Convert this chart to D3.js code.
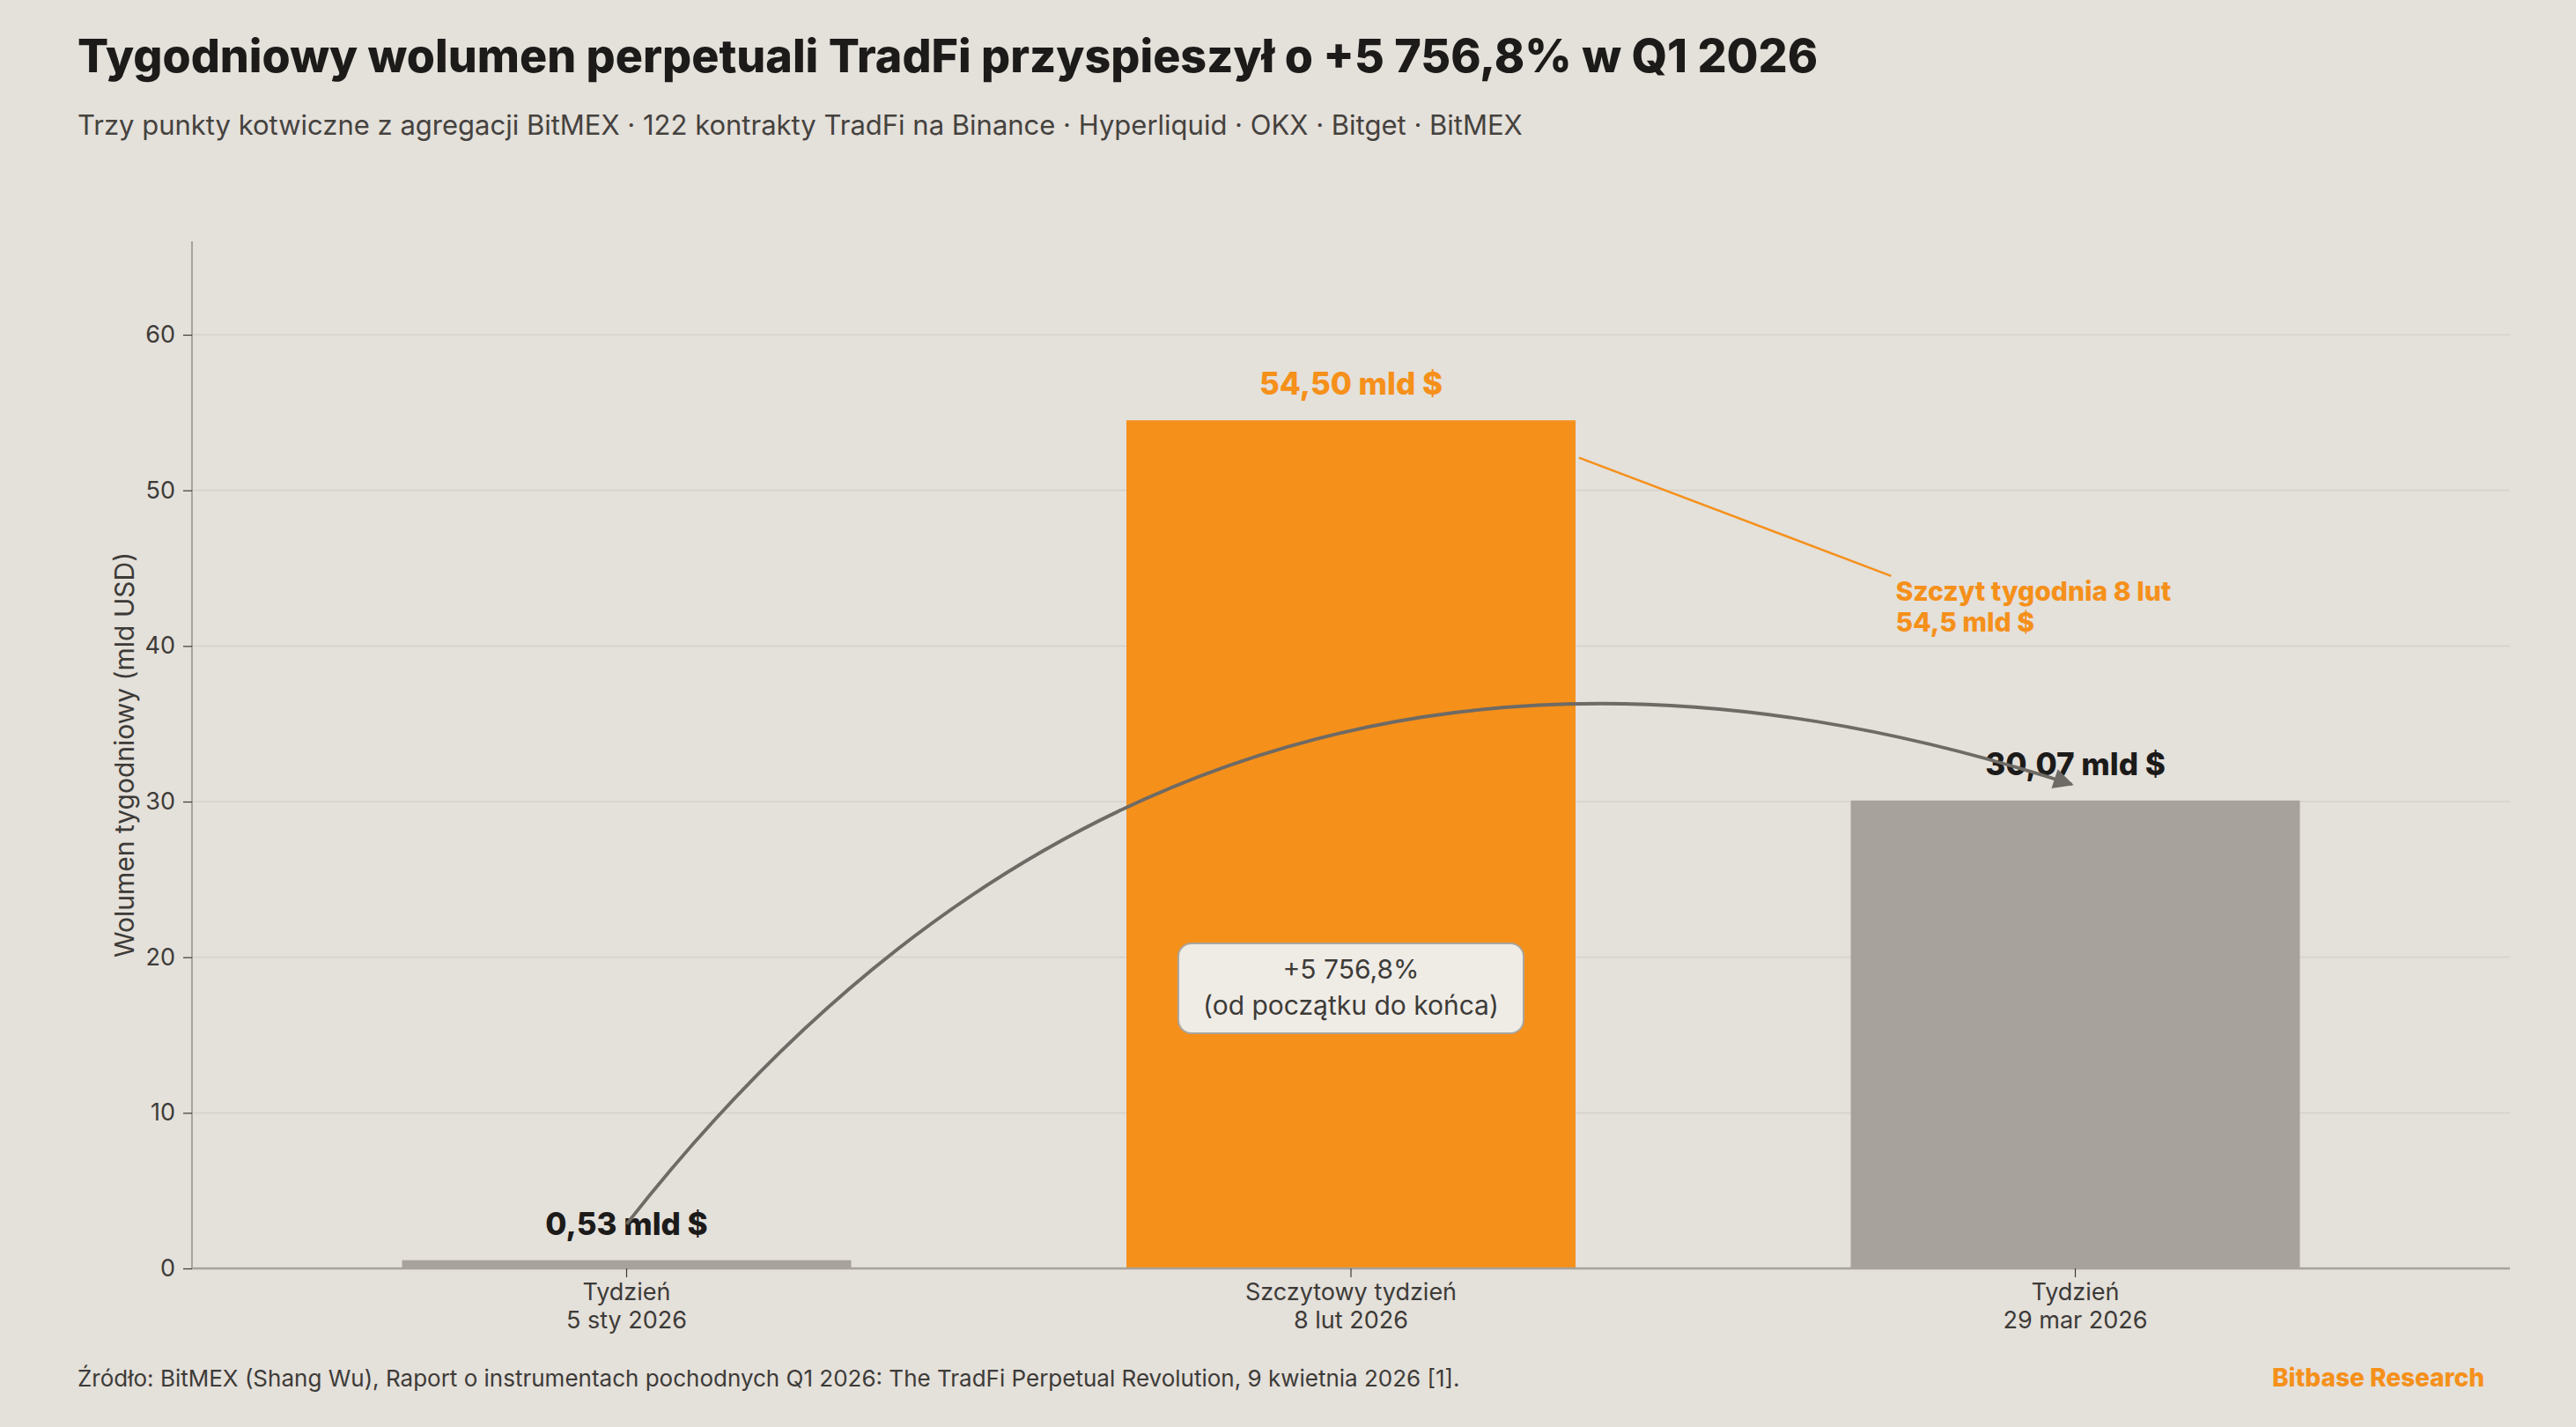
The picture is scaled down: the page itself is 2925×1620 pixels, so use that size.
<!doctype html>
<html>
<head>
<meta charset="utf-8">
<script src="https://d3js.org/d3.v7.min.js"></script>
<style>
  body { margin: 0; background: #e4e0da; }
  text { font-family: "Inter", "Noto Sans", sans-serif; }
</style>
</head>
<body>
<svg id="chart" width="2925" height="1620"></svg>
<script>
// data
var weekTop = ["Tydzień", "Szczytowy tydzień", "Tydzień"];
var weekBottom = ["5 sty 2026", "8 lut 2026", "29 mar 2026"];
var volume = [0.53, 54.50, 30.07];
var volumeLabels = ["0,53 mld $", "54,50 mld $", "30,07 mld $"];
var yTicks = [0, 10, 20, 30, 40, 50, 60];
var peakIndex = 1;

var svg = d3.select("#chart"),
    width = +svg.attr("width"),
    height = +svg.attr("height");

var orange = "#f5901a", grey = "#a7a29c", dark = "#1c1b1a", mid = "#3d3b38";
var plotLeft = 218, plotRight = 2850, plotTop = 274, plotBottom = 1440;

svg.append("rect").attr("width", width).attr("height", height).attr("fill", "#e4e0da");

// titles
svg.append("text")
   .attr("x", 88).attr("y", 82)
   .attr("font-size", "52px").attr("font-weight", 800)
   .attr("fill", dark)
   .text("Tygodniowy wolumen perpetuali TradFi przyspieszył o +5 756,8% w Q1 2026");
svg.append("text")
   .attr("x", 88).attr("y", 153)
   .attr("font-size", "31px").attr("fill", "#45423e")
   .text("Trzy punkty kotwiczne z agregacji BitMEX · 122 kontrakty TradFi na Binance · Hyperliquid · OKX · Bitget · BitMEX");

var x = d3.scaleBand().domain(d3.range(volume.length)).range([plotLeft, plotRight])
          .paddingInner(0.38).paddingOuter(0.29);
var y = d3.scaleLinear().domain([0, 66]).range([plotBottom, plotTop]);

// grid
svg.append("g").selectAll("line")
   .data(yTicks.filter(function(d) { return d > 0; }))
   .enter().append("line")
   .attr("x1", plotLeft).attr("x2", plotRight)
   .attr("y1", function(d) { return y(d); }).attr("y2", function(d) { return y(d); })
   .attr("stroke", "#d6d2cc").attr("stroke-width", 1.6);

// y axis
var yAxis = svg.append("g")
   .attr("transform", "translate(" + plotLeft + ",0)")
   .call(d3.axisLeft(y).tickValues(yTicks).tickSize(10).tickPadding(9));
yAxis.select(".domain").attr("stroke", grey).attr("stroke-width", 2)
     .attr("d", "M0," + plotBottom + "V" + plotTop);
yAxis.selectAll(".tick line").attr("stroke", mid).attr("stroke-width", 1.2);
yAxis.selectAll(".tick text").attr("font-size", "27px").attr("fill", mid)
     .attr("font-family", "Inter, 'Noto Sans', sans-serif");

svg.append("text")
   .attr("transform", "translate(152," + (y(33)) + ") rotate(-90)")
   .attr("text-anchor", "middle")
   .attr("font-size", "30px").attr("fill", mid)
   .text("Wolumen tygodniowy (mld USD)");

// bars
svg.append("g").selectAll("rect")
   .data(volume)
   .enter().append("rect")
   .attr("x", function(d, i) { return x(i); })
   .attr("y", function(d) { return y(d); })
   .attr("width", x.bandwidth())
   .attr("height", function(d) { return y(0) - y(d); })
   .attr("fill", function(d, i) { return i === peakIndex ? orange : grey; });

// x axis
var xAxis = svg.append("g")
   .attr("transform", "translate(0," + plotBottom + ")")
   .call(d3.axisBottom(x).tickSize(10).tickFormat(""));
xAxis.select(".domain").attr("stroke", grey).attr("stroke-width", 2.5)
     .attr("d", "M" + plotLeft + ",0H" + plotRight);
xAxis.selectAll(".tick line").attr("stroke", mid).attr("stroke-width", 1.2);

var xl = svg.append("g").selectAll("text")
   .data(volume).enter().append("text")
   .attr("x", function(d, i) { return x(i) + x.bandwidth() / 2; })
   .attr("text-anchor", "middle")
   .attr("font-size", "27px").attr("fill", mid);
xl.append("tspan").attr("x", function(d, i) { return x(i) + x.bandwidth() / 2; })
  .attr("y", plotBottom + 36).text(function(d, i) { return weekTop[i]; });
xl.append("tspan").attr("x", function(d, i) { return x(i) + x.bandwidth() / 2; })
  .attr("y", plotBottom + 68).text(function(d, i) { return weekBottom[i]; });

// value labels
svg.append("g").selectAll("text")
   .data(volume).enter().append("text")
   .attr("x", function(d, i) { return x(i) + x.bandwidth() / 2; })
   .attr("y", function(d) { return y(d) - 29; })
   .attr("text-anchor", "middle")
   .attr("font-size", "35px").attr("font-weight", 800)
   .attr("fill", function(d, i) { return i === peakIndex ? orange : dark; })
   .text(function(d, i) { return volumeLabels[i]; });

// peak callout
var cx0 = x(peakIndex) + x.bandwidth() + 4, cy0 = y(52.1);
svg.append("line")
   .attr("x1", cx0).attr("y1", cy0)
   .attr("x2", x(2) + x.bandwidth() * 0.09).attr("y2", y(44.5))
   .attr("stroke", orange).attr("stroke-width", 2.5);
var pk = svg.append("text")
   .attr("font-size", "30px").attr("font-weight", 800).attr("fill", orange);
pk.append("tspan").attr("x", x(2) + x.bandwidth() * 0.1).attr("y", y(42.9)).text("Szczyt tygodnia 8 lut");
pk.append("tspan").attr("x", x(2) + x.bandwidth() * 0.1).attr("dy", 35).text("54,5 mld $");

// curved arrow from first to last bar
var p0 = [x(0) + x.bandwidth() / 2, y(2.85)],
    p2 = [x(2) + x.bandwidth() / 2 - 4, y(31.1)];
var rad = 0.35;
var dx = p2[0] - p0[0], dy = p2[1] - p0[1];
var c = [(p0[0] + p2[0]) / 2 + rad * dy, (p0[1] + p2[1]) / 2 - rad * dx];
var path = d3.path();
path.moveTo(p0[0], p0[1]);
path.quadraticCurveTo(c[0], c[1], p2[0], p2[1]);

svg.append("defs").append("marker")
   .attr("id", "head").attr("viewBox", "0 0 10 10")
   .attr("refX", 9).attr("refY", 5)
   .attr("markerWidth", 8).attr("markerHeight", 6)
   .attr("markerUnits", "strokeWidth")
   .attr("orient", "auto")
   .append("path").attr("d", "M0,0L10,5L0,10Z").attr("fill", "#6e6a65");

svg.append("path")
   .attr("d", path.toString())
   .attr("fill", "none").attr("stroke", "#6e6a65").attr("stroke-width", 3.8)
   .attr("marker-end", "url(#head)");

// change box
var bx = x(1) + x.bandwidth() / 2, by = y(18);
svg.append("rect")
   .attr("x", bx - 196).attr("y", by - 51)
   .attr("width", 392).attr("height", 102)
   .attr("rx", 15)
   .attr("fill", "#efece6").attr("stroke", "#aaa59f").attr("stroke-width", 2);
var bt = svg.append("text").attr("text-anchor", "middle")
   .attr("font-size", "30px").attr("fill", mid);
bt.append("tspan").attr("x", bx).attr("y", by - 11).text("+5 756,8%");
bt.append("tspan").attr("x", bx).attr("y", by + 30).text("(od początku do końca)");

// footer
svg.append("text")
   .attr("x", 88).attr("y", 1574)
   .attr("font-size", "26px").attr("fill", mid)
   .text("Źródło: BitMEX (Shang Wu), Raport o instrumentach pochodnych Q1 2026: The TradFi Perpetual Revolution, 9 kwietnia 2026 [1].");
svg.append("text")
   .attr("x", 2821).attr("y", 1574)
   .attr("text-anchor", "end")
   .attr("font-size", "28px").attr("font-weight", 800).attr("fill", orange)
   .text("Bitbase Research");
</script>
</body>
</html>
